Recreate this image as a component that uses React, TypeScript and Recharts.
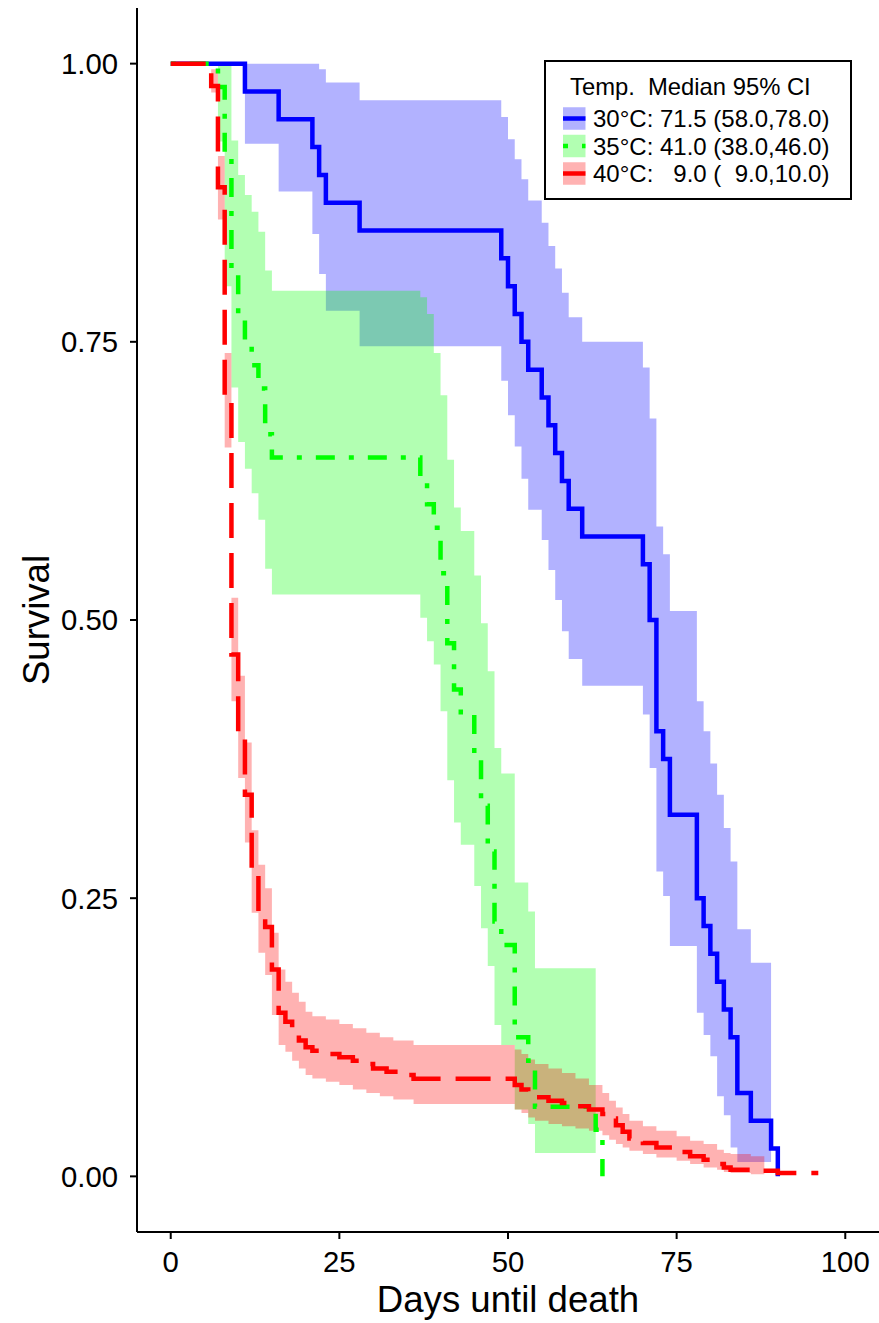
import React from 'react';
import { ComposedChart, Line, Area, XAxis, YAxis } from 'recharts';

const FONT = '"Liberation Sans", Arial, Helvetica, sans-serif';

// ---- 30°C (blue) Kaplan-Meier estimate ----
const blueTimes = [0, 11, 16, 21, 22, 23, 28, 49, 50, 51, 52, 53, 55, 56, 57, 58, 59, 61, 70, 71, 72, 73, 74, 78, 79, 80, 81, 82, 83, 84, 86, 89, 90];
const blueSurv = [1, 0.975, 0.95, 0.925, 0.9, 0.875, 0.85, 0.825, 0.8, 0.775, 0.75, 0.725, 0.7, 0.675, 0.65, 0.625, 0.6, 0.575, 0.55, 0.5, 0.4, 0.375, 0.325, 0.25, 0.225, 0.2, 0.175, 0.15, 0.125, 0.075, 0.05, 0.025, 0];
// 30°C confidence band
const blueBandTimes = [11, 16, 21, 22, 23, 28, 49, 50, 51, 52, 53, 55, 56, 57, 58, 59, 61, 70, 71, 72, 73, 74, 78, 79, 80, 81, 82, 83, 84, 86, 89];
const blueLower = [0.928, 0.885, 0.847, 0.811, 0.778, 0.746, 0.715, 0.684, 0.656, 0.627, 0.599, 0.572, 0.545, 0.518, 0.49, 0.465, 0.441, 0.415, 0.367, 0.274, 0.252, 0.207, 0.147, 0.127, 0.108, 0.072, 0.055, 0.026, 0.013, 0.013, 0.013];
const blueUpper = [1, 1, 1, 0.995, 0.983, 0.967, 0.952, 0.932, 0.914, 0.896, 0.877, 0.857, 0.836, 0.816, 0.794, 0.772, 0.75, 0.727, 0.681, 0.584, 0.559, 0.508, 0.427, 0.4, 0.371, 0.343, 0.313, 0.283, 0.222, 0.192, 0.192];

// ---- 35°C (green) ----
const greenTimes = [0, 7, 8, 9, 10, 11, 12, 13, 14, 15, 37, 38, 39, 40, 41, 42, 43, 45, 46, 47, 48, 49, 51, 53, 54, 63, 64];
const greenSurv = [1, 0.979, 0.917, 0.8125, 0.771, 0.75, 0.729, 0.708, 0.667, 0.646, 0.625, 0.604, 0.583, 0.542, 0.479, 0.4375, 0.417, 0.375, 0.333, 0.292, 0.229, 0.208, 0.125, 0.104, 0.0625, 0.042, 0];
const greenBandTimes = [7, 8, 9, 10, 11, 12, 13, 14, 15, 37, 38, 39, 40, 41, 42, 43, 45, 46, 47, 48, 49, 51, 53, 54, 63];
const greenLower = [0.93, 0.8, 0.709, 0.66, 0.636, 0.614, 0.59, 0.546, 0.523, 0.502, 0.481, 0.46, 0.418, 0.356, 0.318, 0.298, 0.261, 0.223, 0.189, 0.136, 0.118, 0.06, 0.047, 0.021, 0.021];
const greenUpper = [1, 1, 0.931, 0.9, 0.882, 0.867, 0.849, 0.814, 0.796, 0.79, 0.775, 0.74, 0.702, 0.644, 0.601, 0.58, 0.54, 0.497, 0.454, 0.385, 0.362, 0.264, 0.238, 0.187, 0.187];

// ---- 40°C (red) ----
const redTimes = [0, 6, 7, 8, 9, 10, 11, 12, 13, 14, 15, 16, 17, 18, 19, 20, 21, 23, 25, 27, 28, 30, 32, 34, 36, 51, 52, 53, 54, 56, 58, 60, 62, 64, 65, 66, 67, 68, 70, 72, 75, 77, 79, 81, 82, 83, 86, 90, 96];
const redSurv = [1, 0.98, 0.889, 0.693, 0.469, 0.4, 0.343, 0.274, 0.237, 0.224, 0.186, 0.147, 0.139, 0.13, 0.122, 0.116, 0.113, 0.11, 0.107, 0.104, 0.101, 0.097, 0.094, 0.091, 0.0877, 0.082, 0.078, 0.074, 0.071, 0.068, 0.066, 0.063, 0.06, 0.056, 0.052, 0.046, 0.04, 0.034, 0.03, 0.026, 0.022, 0.018, 0.015, 0.011, 0.008, 0.006, 0.005, 0.003, 0.003];
const redBandTimes = [6, 7, 8, 9, 10, 11, 12, 13, 14, 15, 16, 17, 18, 19, 20, 21, 23, 25, 27, 29, 31, 33, 36, 51, 52, 53, 54, 56, 58, 60, 62, 64, 65, 66, 67, 68, 70, 72, 75, 77, 79, 81, 82, 83, 86, 88];
const redLower = [0.974, 0.86, 0.655, 0.427, 0.358, 0.3, 0.237, 0.201, 0.181, 0.145, 0.118, 0.112, 0.104, 0.097, 0.091, 0.088, 0.085, 0.082, 0.078, 0.075, 0.072, 0.069, 0.065, 0.06, 0.057, 0.053, 0.05, 0.047, 0.045, 0.043, 0.041, 0.037, 0.033, 0.029, 0.026, 0.023, 0.02, 0.017, 0.014, 0.011, 0.008, 0.006, 0.004, 0.003, 0.002, 0.002];
const redUpper = [0.995, 0.917, 0.74, 0.52, 0.45, 0.39, 0.311, 0.28, 0.259, 0.219, 0.186, 0.175, 0.165, 0.157, 0.148, 0.144, 0.141, 0.137, 0.133, 0.129, 0.125, 0.122, 0.118, 0.114, 0.11, 0.105, 0.101, 0.097, 0.093, 0.088, 0.082, 0.075, 0.068, 0.062, 0.056, 0.05, 0.045, 0.041, 0.036, 0.032, 0.029, 0.024, 0.021, 0.02, 0.018, 0.018];

// axis ticks and legend text
const xTicks = [0, 25, 50, 75, 100];
const yTicks = [0, 0.25, 0.5, 0.75, 1];
const legendTitle = 'Temp.  Median 95% CI';
const legendLabels = ['30°C: 71.5 (58.0,78.0)', '35°C: 41.0 (38.0,46.0)', '40°C:   9.0 (  9.0,10.0)'];
const seriesColors = ['#0000ff', '#00ff00', '#ff0000'];
const seriesDash = [undefined, '5 14 19 14', '35 15'];

const toLine = (t: number[], s: number[]) => t.map((x, i) => ({ t: x, s: s[i] }));
const toBand = (t: number[], lo: number[], hi: number[]) => t.map((x, i) => ({ t: x, band: [lo[i], hi[i]] }));

const blueLine = toLine(blueTimes, blueSurv);
const greenLine = toLine(greenTimes, greenSurv);
const redLine = toLine(redTimes, redSurv);
const blueBand = toBand(blueBandTimes, blueLower, blueUpper);
const greenBand = toBand(greenBandTimes, greenLower, greenUpper);
const redBand = toBand(redBandTimes, redLower, redUpper);

const LW = 4.5;

export default function App() {
  const tickStyle = { fill: '#000', fontSize: 29.3, fontFamily: FONT };
  return (
    <div style={{ position: 'absolute', left: 0, top: 0, width: 879, height: 1323, background: '#fff', overflow: 'hidden' }}>
      <ComposedChart width={879} height={1323} margin={{ top: 8, right: 0, bottom: 0, left: 0 }}>
        <XAxis
          dataKey="t"
          type="number"
          domain={[-5, 105]}
          ticks={xTicks}
          interval={0}
          allowDataOverflow
          height={91}
          tickSize={7}
          tickMargin={12}
          axisLine={{ stroke: '#000', strokeWidth: 2 }}
          tickLine={{ stroke: '#000', strokeWidth: 2 }}
          tick={tickStyle}
        />
        <YAxis
          type="number"
          domain={[-0.05, 1.05]}
          ticks={yTicks}
          interval={0}
          allowDataOverflow
          width={137}
          tickSize={7}
          tickMargin={12}
          tickFormatter={(v: number) => v.toFixed(2)}
          axisLine={{ stroke: '#000', strokeWidth: 2 }}
          tickLine={{ stroke: '#000', strokeWidth: 2 }}
          tick={tickStyle}
        />
        <Area data={blueBand} dataKey="band" type="stepAfter" stroke="none" fill="#0000ff" fillOpacity={0.3} isAnimationActive={false} activeDot={false} />
        <Area data={greenBand} dataKey="band" type="stepAfter" stroke="none" fill="#00ff00" fillOpacity={0.3} isAnimationActive={false} activeDot={false} />
        <Area data={redBand} dataKey="band" type="stepAfter" stroke="none" fill="#ff0000" fillOpacity={0.3} isAnimationActive={false} activeDot={false} />
        <Line data={blueLine} dataKey="s" type="stepAfter" stroke="#0000ff" strokeWidth={LW} dot={false} activeDot={false} isAnimationActive={false} />
        <Line data={greenLine} dataKey="s" type="stepAfter" stroke="#00ff00" strokeWidth={LW} strokeDasharray="5 14 19 14" dot={false} activeDot={false} isAnimationActive={false} />
        <Line data={redLine} dataKey="s" type="stepAfter" stroke="#ff0000" strokeWidth={LW} strokeDasharray="35 15" dot={false} activeDot={false} isAnimationActive={false} />
      </ComposedChart>
      <svg width={879} height={1323} style={{ position: 'absolute', left: 0, top: 0, pointerEvents: 'none' }}>
        <text x={49} y={620} transform="rotate(-90 49 620)" textAnchor="middle" fontSize={36.6} fontFamily={FONT} fill="#000">Survival</text>
        <text x={508} y={1312} textAnchor="middle" fontSize={36.6} fontFamily={FONT} fill="#000">Days until death</text>
        <rect x={545} y={61} width={306} height={138} fill="#fff" stroke="#000" strokeWidth={2} />
        <text x={570} y={95} fontSize={23.8} fontFamily={FONT} fill="#000" style={{ whiteSpace: 'pre' }}>{legendTitle}</text>
        {legendLabels.map((lab, i) => {
          const cy = 118.5 + i * 27.5;
          return (
            <g key={lab}>
              <rect x={563} y={cy - 11.25} width={22.5} height={22.5} fill={seriesColors[i]} fillOpacity={0.3} />
              <line x1={563} x2={585.5} y1={cy} y2={cy} stroke={seriesColors[i]} strokeWidth={LW} strokeDasharray={seriesDash[i]} />
              <text x={593} y={cy + 8.5} fontSize={24} fontFamily={FONT} fill="#000" style={{ whiteSpace: 'pre' }}>{lab}</text>
            </g>
          );
        })}
      </svg>
    </div>
  );
}
